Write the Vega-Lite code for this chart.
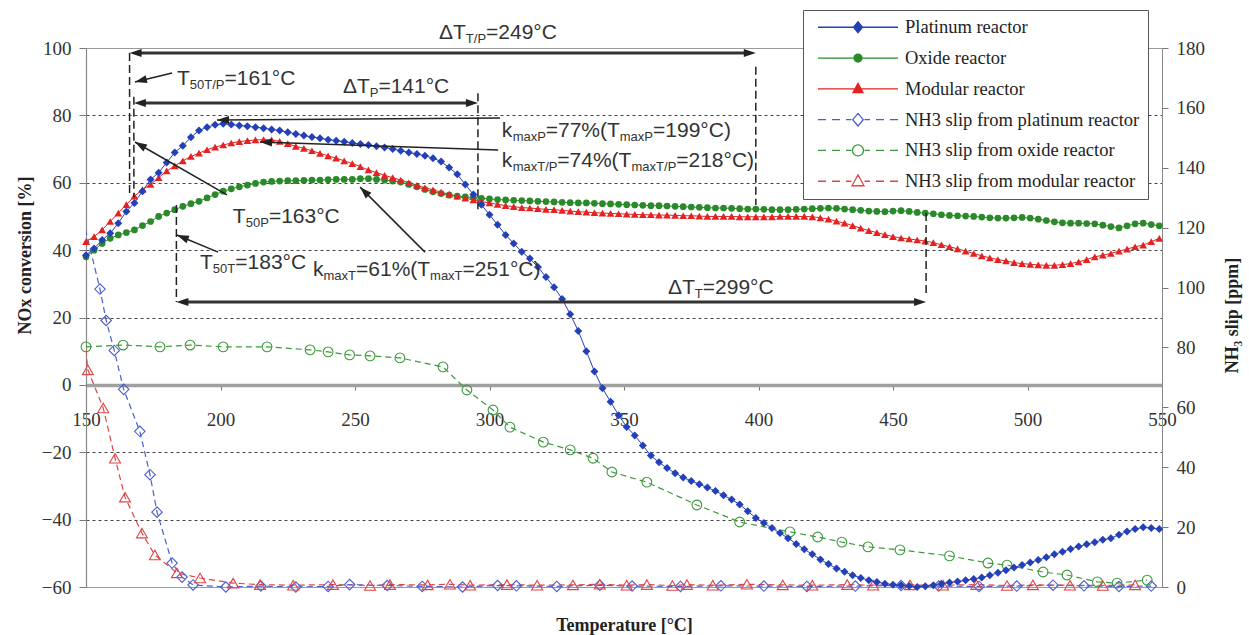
{
"$schema": "https://vega.github.io/schema/vega-lite/v6.json",
"width": 1076, "height": 539,
"autosize": {"type": "none"},
"padding": {"left": 86, "top": 48, "right": 87, "bottom": 48},
"background": "white",
"config": {
  "view": {"stroke": "#9a9a9a", "strokeWidth": 1},
  "axis": {"labelFont": "Liberation Serif", "labelFontSize": 19, "labelColor": "#333", "titleFont": "Liberation Serif", "titleFontSize": 18, "titleFontWeight": "bold", "titleColor": "#222", "domainColor": "#888", "tickColor": "#777", "grid": false}
},
"datasets": {
  "nox": [
{"T":150,"P":38.5,"O":38,"M":42.5},{"T":153,"P":40.5,"O":40,"M":44},{"T":156,"P":43,"O":42,"M":46},{"T":159,"P":45,"O":43.5,"M":48.5},{"T":162,"P":48,"O":44.5,"M":51},{"T":165,"P":51.5,"O":45.2,"M":53.5},{"T":168,"P":54,"O":46,"M":56},{"T":171,"P":57.5,"O":47.3,"M":58},{"T":174,"P":61,"O":48.5,"M":59.5},{"T":177,"P":63,"O":50,"M":61.5},{"T":180,"P":66,"O":51,"M":63.5},{"T":183,"P":69,"O":52,"M":65},{"T":186,"P":71,"O":53,"M":66.5},{"T":189,"P":73.5,"O":53.8,"M":67.8},{"T":192,"P":75.5,"O":54.5,"M":68.8},{"T":195,"P":76.5,"O":55.5,"M":69.8},{"T":198,"P":77.2,"O":56.5,"M":70.6},{"T":201,"P":77.5,"O":57.5,"M":71.2},{"T":204,"P":77.3,"O":58.2,"M":71.8},{"T":207,"P":77,"O":58.8,"M":72.2},{"T":210,"P":76.8,"O":59.3,"M":72.5},{"T":213,"P":76.5,"O":59.8,"M":72.7},{"T":216,"P":76.2,"O":60.2,"M":72.8},{"T":219,"P":75.8,"O":60.4,"M":72.7},{"T":222,"P":75.5,"O":60.5,"M":72.3},{"T":225,"P":75,"O":60.6,"M":71.6},{"T":228,"P":74.5,"O":60.6,"M":70.8},{"T":231,"P":74,"O":60.7,"M":70.2},{"T":234,"P":73.6,"O":60.8,"M":69.5},{"T":237,"P":73.2,"O":60.8,"M":68.7},{"T":240,"P":72.8,"O":60.9,"M":68},{"T":243,"P":72.5,"O":61,"M":67.3},{"T":246,"P":72.2,"O":61,"M":66.5},{"T":249,"P":71.8,"O":61,"M":65.7},{"T":252,"P":71.5,"O":61.2,"M":64.8},{"T":255,"P":71.2,"O":61.2,"M":63.8},{"T":258,"P":70.8,"O":61,"M":63},{"T":261,"P":70.5,"O":60.8,"M":62.2},{"T":264,"P":70,"O":60.5,"M":61.5},{"T":267,"P":69.5,"O":60.2,"M":60.8},{"T":270,"P":69,"O":59.5,"M":60},{"T":273,"P":68.5,"O":58.8,"M":59.2},{"T":276,"P":68,"O":58,"M":58.5},{"T":279,"P":67.3,"O":57.3,"M":57.9},{"T":282,"P":66.3,"O":56.8,"M":57.2},{"T":285,"P":64.5,"O":56.3,"M":56.6},{"T":288,"P":62.5,"O":56,"M":56},{"T":291,"P":59.5,"O":55.8,"M":55.4},{"T":294,"P":56.5,"O":55.6,"M":54.9},{"T":297,"P":53.5,"O":55.4,"M":54.4},{"T":300,"P":50.5,"O":55.2,"M":54},{"T":303,"P":47.5,"O":55,"M":53.6},{"T":306,"P":44.5,"O":54.9,"M":53.2},{"T":309,"P":42,"O":54.8,"M":52.9},{"T":312,"P":39.5,"O":54.7,"M":52.6},{"T":315,"P":37.5,"O":54.6,"M":52.5},{"T":318,"P":35,"O":54.5,"M":52.3},{"T":321,"P":32,"O":54.4,"M":52.1},{"T":324,"P":29,"O":54.3,"M":52},{"T":327,"P":25.5,"O":54.2,"M":51.8},{"T":330,"P":21,"O":54.1,"M":51.6},{"T":333,"P":16,"O":54,"M":51.4},{"T":336,"P":10,"O":54,"M":51.3},{"T":339,"P":4,"O":53.9,"M":51.1},{"T":342,"P":-1,"O":53.8,"M":51},{"T":345,"P":-5,"O":53.7,"M":50.9},{"T":348,"P":-9,"O":53.6,"M":50.8},{"T":351,"P":-12.5,"O":53.5,"M":50.7},{"T":354,"P":-15,"O":53.4,"M":50.6},{"T":357,"P":-18,"O":53.3,"M":50.5},{"T":360,"P":-21,"O":53.2,"M":50.5},{"T":363,"P":-23,"O":53.2,"M":50.4},{"T":366,"P":-24.7,"O":53.1,"M":50.4},{"T":369,"P":-26.2,"O":53,"M":50.3},{"T":372,"P":-27.5,"O":52.9,"M":50.2},{"T":375,"P":-28.5,"O":52.8,"M":50.2},{"T":378,"P":-29.5,"O":52.7,"M":50.1},{"T":381,"P":-30.5,"O":52.6,"M":50},{"T":384,"P":-31.5,"O":52.5,"M":50},{"T":387,"P":-32.8,"O":52.5,"M":50},{"T":390,"P":-34,"O":52.4,"M":50},{"T":393,"P":-35.5,"O":52.3,"M":49.9},{"T":396,"P":-37.5,"O":52.2,"M":49.9},{"T":399,"P":-39.5,"O":52.2,"M":49.9},{"T":402,"P":-41,"O":52.1,"M":49.9},{"T":405,"P":-42.5,"O":52,"M":49.9},{"T":408,"P":-44,"O":52,"M":50},{"T":411,"P":-45.5,"O":52,"M":50},{"T":414,"P":-47.2,"O":52.1,"M":50},{"T":417,"P":-48.8,"O":52.2,"M":50},{"T":420,"P":-50.3,"O":52.3,"M":49.9},{"T":423,"P":-51.8,"O":52.4,"M":49.6},{"T":426,"P":-53.2,"O":52.5,"M":49.2},{"T":429,"P":-54.5,"O":52.4,"M":48.6},{"T":432,"P":-55.5,"O":52.2,"M":48},{"T":435,"P":-56.5,"O":52,"M":47.3},{"T":438,"P":-57.3,"O":51.8,"M":46.5},{"T":441,"P":-58,"O":51.6,"M":45.8},{"T":444,"P":-58.5,"O":51.5,"M":45.2},{"T":447,"P":-59,"O":51.4,"M":44.6},{"T":450,"P":-59.3,"O":51.6,"M":44},{"T":453,"P":-59.5,"O":51.7,"M":43.6},{"T":456,"P":-59.7,"O":51.5,"M":43.3},{"T":459,"P":-60,"O":51.2,"M":43},{"T":462,"P":-59.8,"O":51,"M":42.7},{"T":465,"P":-59.5,"O":50.8,"M":42.2},{"T":468,"P":-59,"O":50.5,"M":41.6},{"T":471,"P":-58.7,"O":50.3,"M":41},{"T":474,"P":-58.4,"O":50.2,"M":40.4},{"T":477,"P":-58,"O":50.1,"M":39.7},{"T":480,"P":-57.6,"O":50,"M":39},{"T":483,"P":-57.2,"O":49.8,"M":38.3},{"T":486,"P":-56.5,"O":49.6,"M":37.7},{"T":489,"P":-55.8,"O":49.5,"M":37.2},{"T":492,"P":-55,"O":49.5,"M":36.8},{"T":495,"P":-54.2,"O":49.6,"M":36.3},{"T":498,"P":-53.5,"O":49.7,"M":36},{"T":501,"P":-52.7,"O":49.5,"M":35.8},{"T":504,"P":-52,"O":49.2,"M":35.6},{"T":507,"P":-51.2,"O":48.8,"M":35.5},{"T":510,"P":-50.3,"O":48.4,"M":35.5},{"T":513,"P":-49.5,"O":48.1,"M":35.7},{"T":516,"P":-48.7,"O":48,"M":36},{"T":519,"P":-48,"O":48,"M":36.5},{"T":522,"P":-47.3,"O":47.9,"M":37.2},{"T":525,"P":-46.7,"O":47.8,"M":38},{"T":528,"P":-46,"O":47.4,"M":38.5},{"T":531,"P":-45.5,"O":47,"M":39},{"T":534,"P":-44.5,"O":46.6,"M":39.7},{"T":537,"P":-43.5,"O":47.2,"M":40.3},{"T":540,"P":-42.8,"O":47.8,"M":41},{"T":543,"P":-42.3,"O":48,"M":41.5},{"T":546,"P":-42.5,"O":47.6,"M":42.5},{"T":549,"P":-42.8,"O":47.2,"M":43.5}
  ],
  "nh3": [
{"s":"NP","T":148,"v":126},{"s":"NP","T":155.2,"v":99.5},{"s":"NP","T":157.5,"v":89},{"s":"NP","T":160.5,"v":79},{"s":"NP","T":164,"v":66},{"s":"NP","T":170,"v":52},{"s":"NP","T":173.8,"v":37.5},{"s":"NP","T":176.4,"v":25},{"s":"NP","T":182,"v":8},{"s":"NP","T":185.7,"v":3.3},{"s":"NP","T":189.8,"v":0.7},{"s":"NP","T":202,"v":0},{"s":"NP","T":215,"v":0.3},{"s":"NP","T":228,"v":0},{"s":"NP","T":240,"v":0.2},{"s":"NP","T":248,"v":0.8},{"s":"NP","T":262,"v":0.5},{"s":"NP","T":275,"v":0.2},{"s":"NP","T":290,"v":0},{"s":"NP","T":303,"v":0.5},{"s":"NP","T":310,"v":0.4},{"s":"NP","T":325,"v":0.2},{"s":"NP","T":341,"v":0.6},{"s":"NP","T":353,"v":0.3},{"s":"NP","T":371,"v":0.2},{"s":"NP","T":386,"v":0.4},{"s":"NP","T":402,"v":0.3},{"s":"NP","T":418,"v":0.2},{"s":"NP","T":436,"v":0.3},{"s":"NP","T":453,"v":0.5},{"s":"NP","T":467,"v":0.3},{"s":"NP","T":482,"v":0.2},{"s":"NP","T":496,"v":0.3},{"s":"NP","T":509.5,"v":0.6},{"s":"NP","T":521,"v":0.4},{"s":"NP","T":534,"v":0.2},{"s":"NP","T":546,"v":0.3},
{"s":"NO","T":150,"v":80.2},{"s":"NO","T":163.8,"v":80.8},{"s":"NO","T":177.5,"v":80.2},{"s":"NO","T":188.7,"v":80.8},{"s":"NO","T":201,"v":80.2},{"s":"NO","T":217.3,"v":80.2},{"s":"NO","T":233.3,"v":79.2},{"s":"NO","T":240,"v":78.5},{"s":"NO","T":248,"v":77.5},{"s":"NO","T":255.6,"v":77.2},{"s":"NO","T":266.7,"v":76.5},{"s":"NO","T":282.7,"v":73.5},{"s":"NO","T":291.6,"v":65.8},{"s":"NO","T":301.3,"v":59.1},{"s":"NO","T":307.6,"v":53.4},{"s":"NO","T":320,"v":48.4},{"s":"NO","T":330,"v":45.8},{"s":"NO","T":338.5,"v":43},{"s":"NO","T":345.5,"v":38.4},{"s":"NO","T":358.5,"v":35},{"s":"NO","T":377.1,"v":27.4},{"s":"NO","T":393,"v":21.7},{"s":"NO","T":411.7,"v":18.4},{"s":"NO","T":422,"v":16.7},{"s":"NO","T":431,"v":15},{"s":"NO","T":440.7,"v":13.4},{"s":"NO","T":452.6,"v":12.4},{"s":"NO","T":471,"v":10.4},{"s":"NO","T":485.3,"v":8},{"s":"NO","T":492.4,"v":7.3},{"s":"NO","T":505.8,"v":5},{"s":"NO","T":514.7,"v":4},{"s":"NO","T":526,"v":1.7},{"s":"NO","T":533.3,"v":1.3},{"s":"NO","T":544.5,"v":2.3},
{"s":"NM","T":148,"v":96},{"s":"NM","T":150.7,"v":72.5},{"s":"NM","T":156.4,"v":59.8},{"s":"NM","T":160.8,"v":43},{"s":"NM","T":164.5,"v":30},{"s":"NM","T":170.8,"v":18},{"s":"NM","T":175.6,"v":10.7},{"s":"NM","T":183.8,"v":4.7},{"s":"NM","T":192.4,"v":3},{"s":"NM","T":204.7,"v":1.3},{"s":"NM","T":214.7,"v":0.8},{"s":"NM","T":227,"v":0.6},{"s":"NM","T":241.8,"v":0.8},{"s":"NM","T":255.6,"v":0.5},{"s":"NM","T":263,"v":0.8},{"s":"NM","T":277,"v":0.7},{"s":"NM","T":285.3,"v":0.9},{"s":"NM","T":292.8,"v":0.6},{"s":"NM","T":306.5,"v":0.8},{"s":"NM","T":317.7,"v":0.6},{"s":"NM","T":331,"v":0.7},{"s":"NM","T":341,"v":0.9},{"s":"NM","T":351,"v":0.6},{"s":"NM","T":358.5,"v":0.8},{"s":"NM","T":368,"v":0.5},{"s":"NM","T":373.4,"v":0.8},{"s":"NM","T":383,"v":0.6},{"s":"NM","T":395.7,"v":0.9},{"s":"NM","T":409,"v":0.7},{"s":"NM","T":420,"v":0.6},{"s":"NM","T":433,"v":0.8},{"s":"NM","T":442.6,"v":0.6},{"s":"NM","T":456.3,"v":0.7},{"s":"NM","T":468.6,"v":0.6},{"s":"NM","T":481,"v":0.8},{"s":"NM","T":492.4,"v":0.5},{"s":"NM","T":502,"v":0.7},{"s":"NM","T":515.8,"v":0.6},{"s":"NM","T":528,"v":0.5},{"s":"NM","T":540,"v":0.7}
  ],
  "vlines": [
{"T":166.2,"v":98.5,"v2":55.8},{"T":167.8,"v":85.5,"v2":55.8},{"T":183.6,"v":53.4,"v2":24.6},{"T":295.7,"v":86.6,"v2":51.3},{"T":399,"v":94.4,"v2":53.4},{"T":462.3,"v":51,"v2":26.1}
  ],
  "harrows": [
{"T":169,"T2":396,"v":98.5},{"T":170.6,"T2":293,"v":83.7},{"T":186.4,"T2":459.5,"v":24.6}
  ],
  "tarrows": [
{"T":182,"v":92.6,"T2":168.2,"v2":89.9},{"T":303.9,"v":79.2,"T2":198.7,"v2":78.6},{"T":303.2,"v":69.7,"T2":214.7,"v2":72.1},{"T":202.4,"v":56.4,"T2":168.2,"v2":72.1},{"T":199.1,"v":39.4,"T2":183.8,"v2":44.5},{"T":276,"v":39.4,"T2":251.9,"v2":58.7}
  ],
  "heads": [
{"T":166.2,"v":98.5,"dir":-90},{"T":399,"v":98.5,"dir":90},{"T":167.8,"v":83.7,"dir":-90},{"T":295.7,"v":83.7,"dir":90},{"T":183.6,"v":24.6,"dir":-90},{"T":462.3,"v":24.6,"dir":90},{"T":168.2,"v":89.9,"dir":-103.7},{"T":198.7,"v":78.6,"dir":-90.4},{"T":214.7,"v":72.1,"dir":-88},{"T":168.2,"v":72.1,"dir":-60},{"T":183.8,"v":44.5,"dir":-67.5},{"T":251.9,"v":58.7,"dir":-45}
  ],
  "txt": [
{"T":281.2,"v":104.45,"t":"ΔT","k":"m"},{"T":291.2,"v":104.45,"t":"T/P","k":"s"},{"T":298.7,"v":104.45,"t":"=249°C","k":"m"},
{"T":183.8,"v":90.8,"t":"T","k":"m"},{"T":188.6,"v":90.8,"t":"50T/P","k":"s"},{"T":201.5,"v":90.8,"t":"=161°C","k":"m"},
{"T":245.5,"v":88.4,"t":"ΔT","k":"m"},{"T":255.5,"v":88.4,"t":"P","k":"s"},{"T":258.7,"v":88.4,"t":"=141°C","k":"m"},
{"T":304.6,"v":75.4,"t":"k","k":"m"},{"T":308.6,"v":75.4,"t":"maxP","k":"s"},{"T":320.9,"v":75.4,"t":"=77%(T","k":"m"},{"T":348.4,"v":75.4,"t":"maxP","k":"s"},{"T":360.8,"v":75.4,"t":"=199°C)","k":"m"},
{"T":304.6,"v":66.5,"t":"k","k":"m"},{"T":308.6,"v":66.5,"t":"maxT/P","k":"s"},{"T":325.2,"v":66.5,"t":"=74%(T","k":"m"},{"T":352.8,"v":66.5,"t":"maxT/P","k":"s"},{"T":369.4,"v":66.5,"t":"=218°C)","k":"m"},
{"T":204.6,"v":49.8,"t":"T","k":"m"},{"T":209.4,"v":49.8,"t":"50P","k":"s"},{"T":218.0,"v":49.8,"t":"=163°C","k":"m"},
{"T":192.4,"v":36.2,"t":"T","k":"m"},{"T":197.1,"v":36.2,"t":"50T","k":"s"},{"T":205.5,"v":36.2,"t":"=183°C","k":"m"},
{"T":234.4,"v":34.1,"t":"k","k":"m"},{"T":238.3,"v":34.1,"t":"maxT","k":"s"},{"T":250.4,"v":34.1,"t":"=61%(T","k":"m"},{"T":277.9,"v":34.1,"t":"maxT","k":"s"},{"T":290.0,"v":34.1,"t":"=251°C)","k":"m"},
{"T":366.4,"v":28.8,"t":"ΔT","k":"m"},{"T":376.3,"v":28.8,"t":"T","k":"s"},{"T":379.3,"v":28.8,"t":"=299°C","k":"m"}
  ]
},
"encoding": {
  "x": {"field": "T", "type": "quantitative", "scale": {"domain": [150, 550], "nice": false, "zero": false},
    "axis": {"orient": "bottom", "offset": -202, "values": [150,200,250,300,350,400,450,500,550], "tickSize": 5, "labelPadding": 20, "labelFlush": false, "labelOverlap": false, "labelBound": false, "domainColor": "#a0a0a0", "domainWidth": 3.5, "title": "Temperature [°C]", "titleX": 538, "titleY": 240, "titleBaseline": "middle", "titleAlign": "center"}}
},
"layer": [
  {
    "data": {"name": "nh3"},
    "encoding": {"y": {"field": "v", "type": "quantitative", "scale": {"domain": [0, 180], "nice": false, "zero": false},
      "axis": {"orient": "right", "values": [0,20,40,60,80,100,120,140,160,180], "tickSize": 6, "labelPadding": 8, "grid": false, "title": "NH₃ slip [ppm]", "titleX": 70, "titleY": 267, "titleAngle": 270, "titleBaseline": "middle", "titleAlign": "center"}}},
    "layer": [
      {"transform": [{"filter": "datum.s=='NP'"}], "mark": {"type": "line", "strokeDash": [6, 4], "strokeWidth": 1.2, "clip": true, "color": "#4A5ED0"}},
      {"transform": [{"filter": "datum.s=='NO'"}], "mark": {"type": "line", "strokeDash": [6, 4], "strokeWidth": 1.2, "clip": true, "color": "#3C9A3C"}},
      {"transform": [{"filter": "datum.s=='NM'"}], "mark": {"type": "line", "strokeDash": [6, 4], "strokeWidth": 1.2, "clip": true, "color": "#E04444"}},
      {"transform": [{"filter": "datum.s=='NP' && datum.T>=150"}],
       "mark": {"type": "point", "shape": "diamond", "size": 110, "filled": false, "opacity": 1, "strokeWidth": 1.1, "color": "#4A5ED0"}},
      {"transform": [{"filter": "datum.s=='NO' && datum.T>=150"}],
       "mark": {"type": "point", "shape": "circle", "size": 95, "filled": false, "opacity": 1, "strokeWidth": 1.1, "color": "#3C9A3C"}},
      {"transform": [{"filter": "datum.s=='NM' && datum.T>=150"}],
       "mark": {"type": "point", "shape": "triangle-up", "size": 120, "filled": false, "opacity": 1, "strokeWidth": 1.1, "color": "#E04444"}}
    ]
  },
  {
    "encoding": {"y": {"field": "v", "type": "quantitative", "scale": {"domain": [-60, 100], "nice": false, "zero": false},
      "axis": {"orient": "left", "values": [-60,-40,-20,0,20,40,60,80,100], "tickSize": 7, "labelPadding": 8, "grid": true, "gridColor": "#444", "gridDash": [3, 3], "gridWidth": 1,
        "gridOpacity": {"condition": {"test": "datum.value==0 || datum.value==100 || datum.value==-60", "value": 0}, "value": 1},
        "title": "NOx conversion [%]", "titleX": -61, "titleY": 207, "titleAngle": 270, "titleBaseline": "middle", "titleAlign": "center", "domainWidth": 1.2}}},
    "layer": [
      {"data": {"name": "nox"}, "transform": [{"filter": "false"}],
       "mark": {"type": "point", "filled": true, "opacity": 1},
       "encoding": {
         "shape": {"field": "s", "type": "nominal",
           "scale": {"domain": ["P","O","M","NP","NO","NM"], "range": [
             "M-8,0H8M0,-1.1L0.9,0L0,1.1L-0.9,0Z",
             "M-8,0H8M-0.8,0A0.8,0.8,0,1,1,0.8,0A0.8,0.8,0,1,1,-0.8,0Z",
             "M-8,0H8M0,-1.1L1,0.75L-1,0.75Z",
             "M-8,0H-6.4M-5.2,0H-3.6M-2.4,0H-1.3M1.3,0H2.4M3.6,0H5.2M6.4,0H8M0,-1.25L1.05,0L0,1.25L-1.05,0Z",
             "M-8,0H-6.4M-5.2,0H-3.6M-2.4,0H-1.3M1.3,0H2.4M3.6,0H5.2M6.4,0H8M-1.1,0A1.1,1.1,0,1,1,1.1,0A1.1,1.1,0,1,1,-1.1,0Z",
             "M-8,0H-6.4M-5.2,0H-3.6M-2.4,0H-1.3M1.3,0H2.4M3.6,0H5.2M6.4,0H8M0,-1.3L1.2,0.9L-1.2,0.9Z"]},
           "legend": {"orient": "none", "legendX": 717, "legendY": -38, "title": null, "padding": 8, "symbolSize": 100, "symbolStrokeWidth": 1.3, "symbolOffset": 37.75, "labelOffset": 37.75, "rowPadding": 11.8, "labelFont": "Liberation Serif", "labelFontSize": 18.5, "labelColor": "#222", "labelLimit": 400, "strokeColor": "#555", "fillColor": "white",
             "labelExpr": "datum.label=='P'?'Platinum reactor':datum.label=='O'?'Oxide reactor':datum.label=='M'?'Modular reactor':datum.label=='NP'?'NH3 slip from platinum reactor':datum.label=='NO'?'NH3 slip from oxide reactor':'NH3 slip from modular reactor'"}},
         "stroke": {"field": "s", "type": "nominal", "scale": {"domain": ["P","O","M","NP","NO","NM"], "range": ["#2440B8","#2A8A2A","#E52222","#4A5ED0","#3C9A3C","#E04444"]},
           "legend": {"orient": "none", "legendX": 717, "legendY": -38, "title": null, "padding": 8, "symbolSize": 100, "symbolStrokeWidth": 1.3, "symbolOffset": 37.75, "labelOffset": 37.75, "rowPadding": 11.8, "labelFont": "Liberation Serif", "labelFontSize": 18.5, "labelColor": "#222", "labelLimit": 400, "strokeColor": "#555", "fillColor": "white",
             "labelExpr": "datum.label=='P'?'Platinum reactor':datum.label=='O'?'Oxide reactor':datum.label=='M'?'Modular reactor':datum.label=='NP'?'NH3 slip from platinum reactor':datum.label=='NO'?'NH3 slip from oxide reactor':'NH3 slip from modular reactor'"}},
         "fill": {"field": "s", "type": "nominal", "scale": {"domain": ["P","O","M","NP","NO","NM"], "range": ["#2440B8","#2A8A2A","#E52222","#ffffff","#ffffff","#ffffff"]},
           "legend": {"orient": "none", "legendX": 717, "legendY": -38, "title": null, "padding": 8, "symbolSize": 100, "symbolStrokeWidth": 1.3, "symbolOffset": 37.75, "labelOffset": 37.75, "rowPadding": 11.8, "labelFont": "Liberation Serif", "labelFontSize": 18.5, "labelColor": "#222", "labelLimit": 400, "strokeColor": "#555", "fillColor": "white",
             "labelExpr": "datum.label=='P'?'Platinum reactor':datum.label=='O'?'Oxide reactor':datum.label=='M'?'Modular reactor':datum.label=='NP'?'NH3 slip from platinum reactor':datum.label=='NO'?'NH3 slip from oxide reactor':'NH3 slip from modular reactor'"}}
       }},
      {
        "data": {"name": "nox"},
        "transform": [{"fold": ["P", "O", "M"], "as": ["s", "v"]}],
        "layer": [
          {"transform": [{"filter": "datum.s=='P'"}], "mark": {"type": "line", "strokeWidth": 1, "color": "#2440B8"}},
          {"transform": [{"filter": "datum.s=='O'"}], "mark": {"type": "line", "strokeWidth": 1, "color": "#2A8A2A"}},
          {"transform": [{"filter": "datum.s=='M'"}], "mark": {"type": "line", "strokeWidth": 1, "color": "#E52222"}},
          {"transform": [{"filter": "datum.s=='O'"}],
           "mark": {"type": "point", "shape": "circle", "size": 45, "filled": true, "opacity": 1, "strokeWidth": 0.4, "color": "#2A8A2A"}},
          {"transform": [{"filter": "datum.s=='M'"}],
           "mark": {"type": "point", "shape": "triangle-up", "size": 60, "filled": true, "opacity": 1, "strokeWidth": 0.4, "color": "#E52222"}},
          {"transform": [{"filter": "datum.s=='P'"}],
           "mark": {"type": "point", "shape": "diamond", "size": 64, "filled": true, "opacity": 1, "strokeWidth": 0.4, "color": "#2440B8"}}
        ]
      },
      {"data": {"name": "vlines"}, "mark": {"type": "rule", "strokeDash": [8, 4], "strokeWidth": 1.5, "color": "#222"},
       "encoding": {"y2": {"field": "v2"}}},
      {"data": {"name": "harrows"}, "mark": {"type": "rule", "strokeWidth": 3, "color": "#333"},
       "encoding": {"x2": {"field": "T2"}}},
      {"data": {"name": "tarrows"}, "mark": {"type": "rule", "strokeWidth": 1.5, "color": "#222"},
       "encoding": {"x2": {"field": "T2"}, "y2": {"field": "v2"}}},
      {"data": {"name": "heads"}, "mark": {"type": "point", "shape": "M0,0L0.67,2L-0.67,2Z", "size": 144, "filled": true, "color": "#222", "opacity": 1, "strokeWidth": 0},
       "encoding": {"angle": {"field": "dir", "type": "quantitative", "scale": null}}},
      {"data": {"name": "txt"}, "transform": [{"filter": "datum.k=='m'"}],
       "mark": {"type": "text", "font": "Liberation Sans", "fontSize": 21, "align": "left", "baseline": "middle", "color": "#333"},
       "encoding": {"text": {"field": "t"}}},
      {"data": {"name": "txt"}, "transform": [{"filter": "datum.k=='s'"}],
       "mark": {"type": "text", "font": "Liberation Sans", "fontSize": 13, "align": "left", "baseline": "middle", "dy": 6, "color": "#333"},
       "encoding": {"text": {"field": "t"}}}
    ]
  }
],
"resolve": {"scale": {"y": "independent"}}
}
